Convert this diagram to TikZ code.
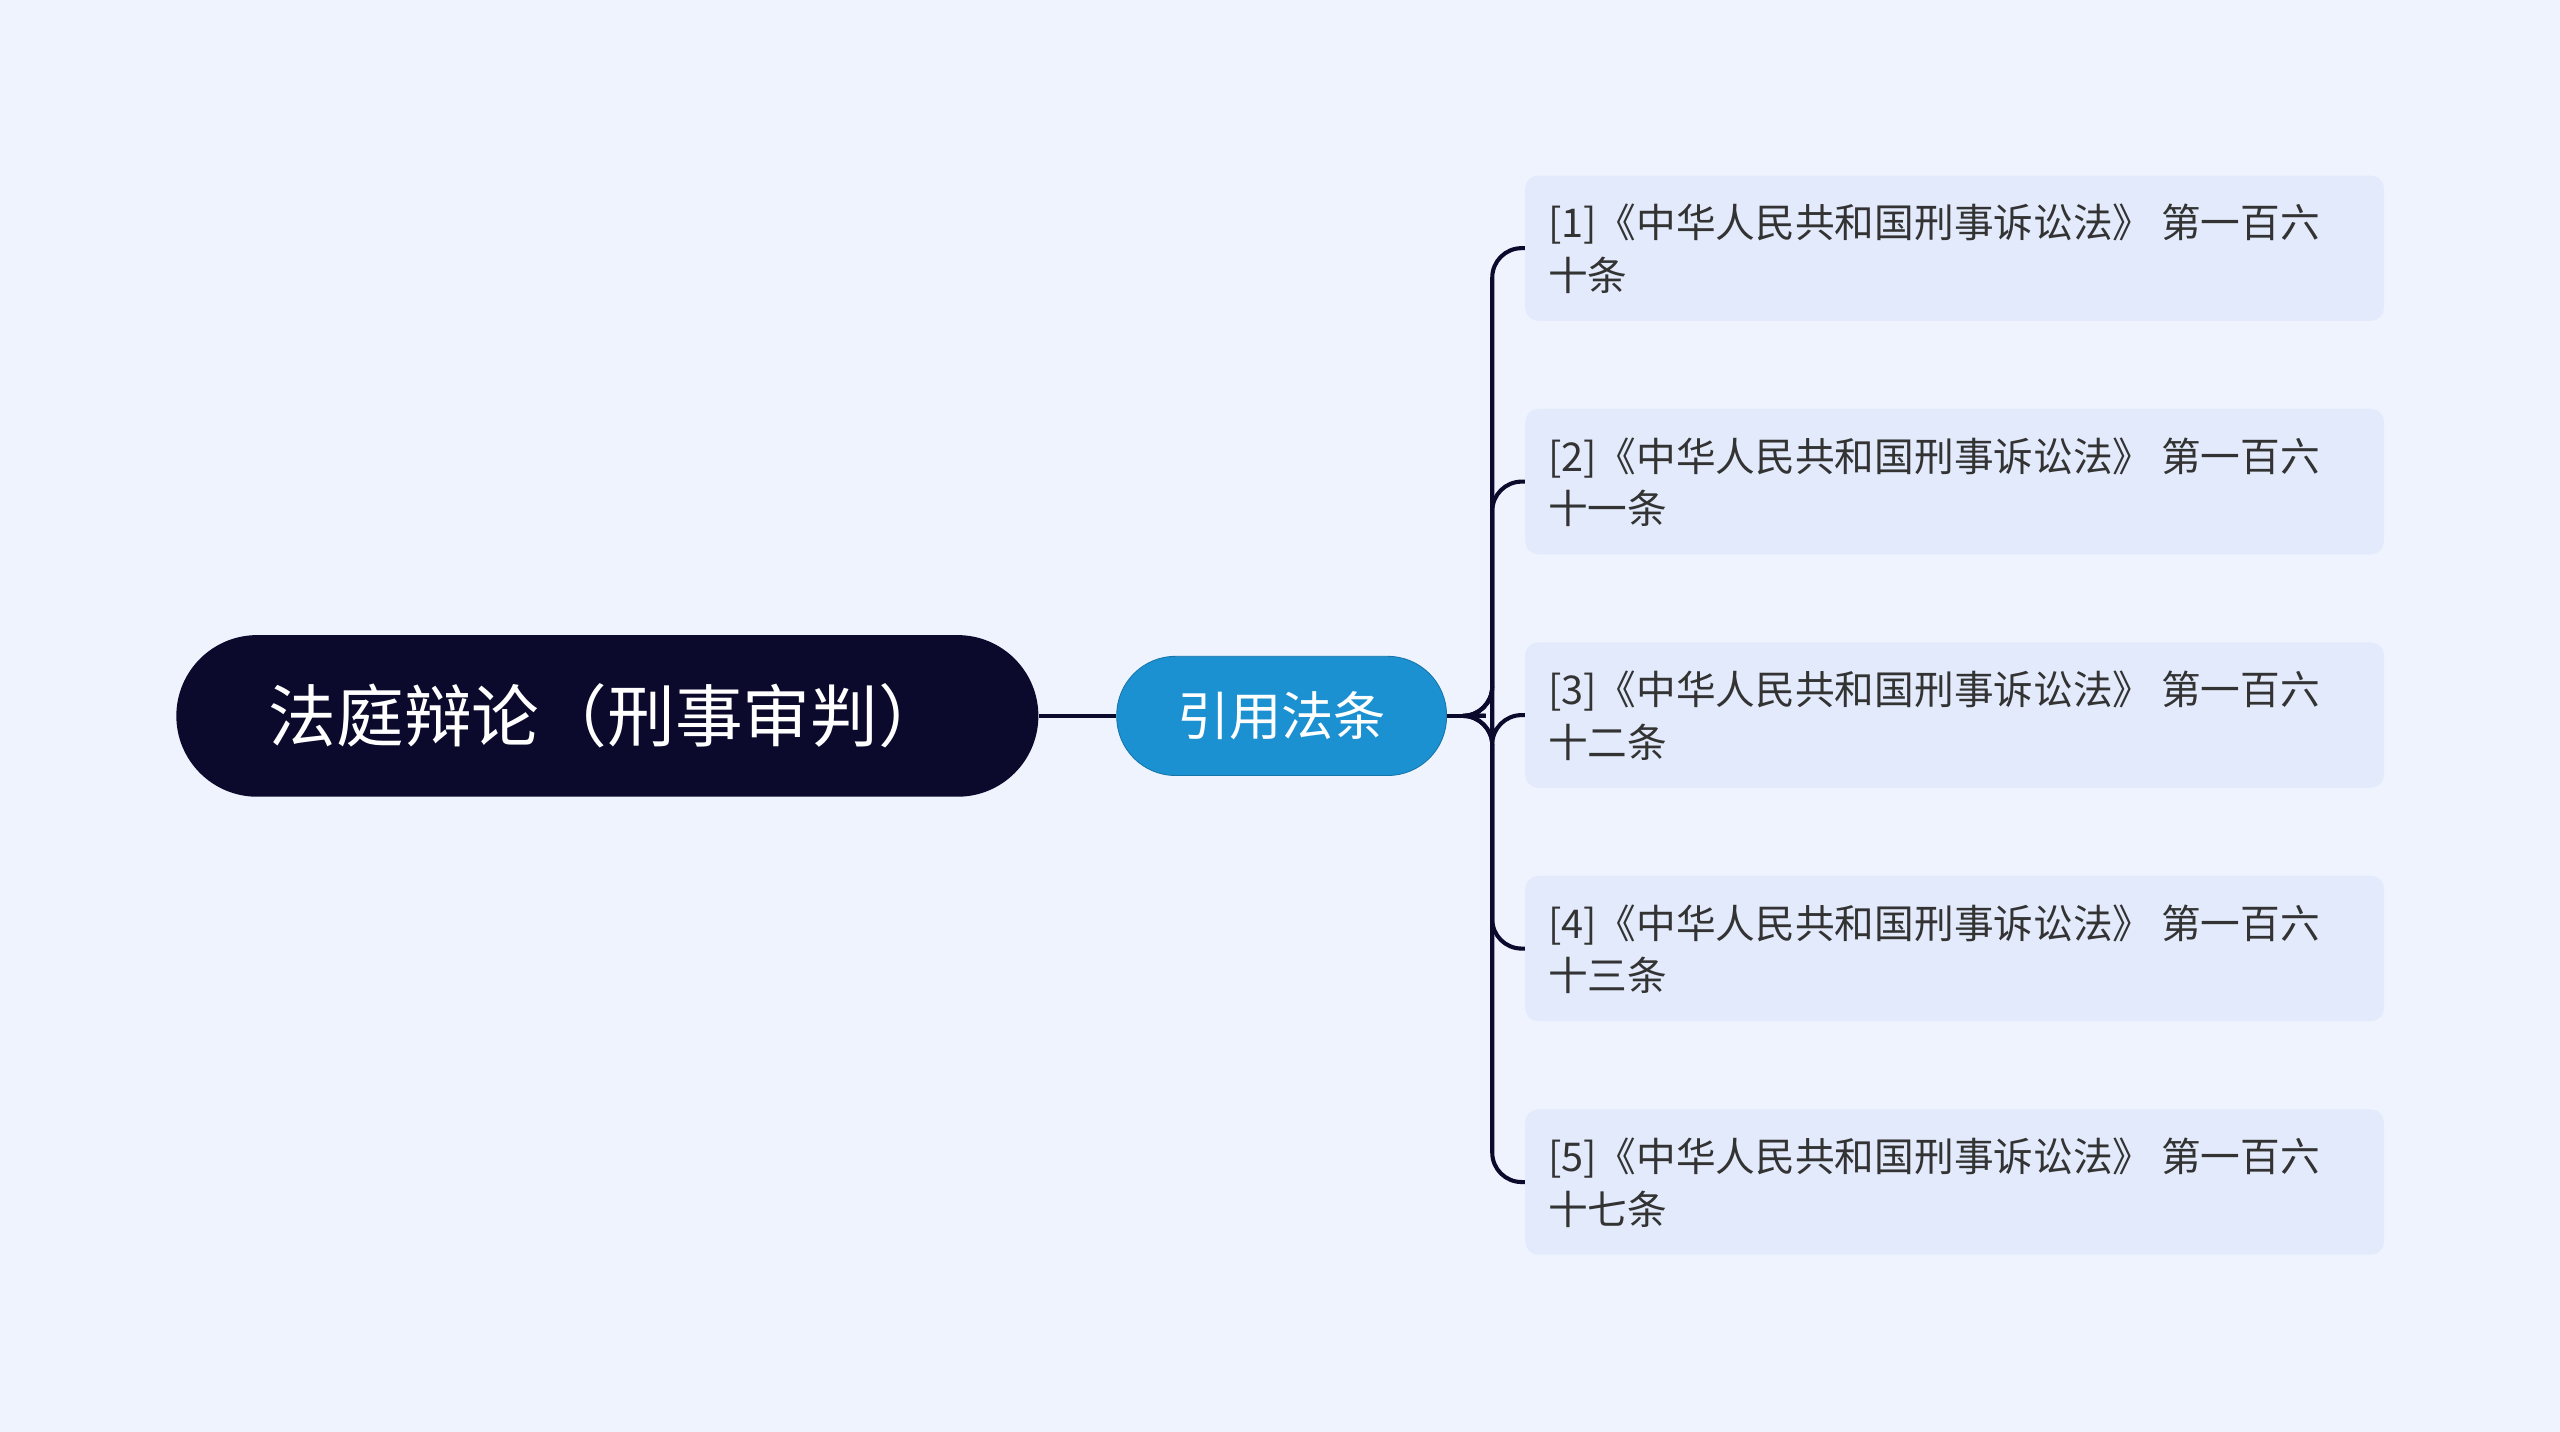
\documentclass[tikz,border=0pt]{standalone}
\usepackage{fontspec}
\setmainfont{Noto Sans CJK SC}
\begin{document}
\begin{tikzpicture}[x=1pt,y=-1pt,
  leaf/.style={fill=leafc,rounded corners=8pt,minimum width=526pt,minimum height=89pt,anchor=west,inner sep=0pt},
  conn/.style={draw=rootc,line width=2.5pt}]
\definecolor{bg}{HTML}{EEF3FE}
\definecolor{rootc}{HTML}{0C0A2C}
\definecolor{midc}{HTML}{1B91D2}
\definecolor{leafc}{HTML}{E2EAFB}
\definecolor{txt}{HTML}{333333}
\fill[bg] (0,0) rectangle (1568,877);
\useasboundingbox (0,0) rectangle (1568,877);
\node[fill=rootc,rounded corners=49.5pt,minimum width=528pt,minimum height=99pt,inner sep=0pt,text=white,font=\fontsize{41.5}{48}\selectfont] (root) at (372,438.5) {法庭辩论（刑事审判）};
\node[fill=midc,draw=midc!80!black,line width=0.5pt,rounded corners=36pt,minimum width=202pt,minimum height=73pt,inner sep=0pt,text=white,font=\fontsize{32}{38}\selectfont] (mid) at (785,438.5) {引用法条};
\draw[conn] (root.east) -- (mid.west);
\coordinate (j) at (910,438.5);
\draw[conn] (mid.east) -- (j);
\foreach \i/\y/\s in {1/152/十条,2/295/十一条,3/438/十二条,4/581/十三条,5/724/十七条}{
  \node[leaf] (l\i) at (934,\y) {};
  \node[anchor=north west,inner sep=0pt,align=left,text=txt,font=\fontsize{24.3}{32}\selectfont] (t\i) at (948,\y-27) {[\i]《中华人民共和国刑事诉讼法》 第一百六\\\s};
  \draw[conn,rounded corners=18pt] (j) -- (914,438.5) -- (914,\y) -- (l\i.west);
}
\end{tikzpicture}
\end{document}
